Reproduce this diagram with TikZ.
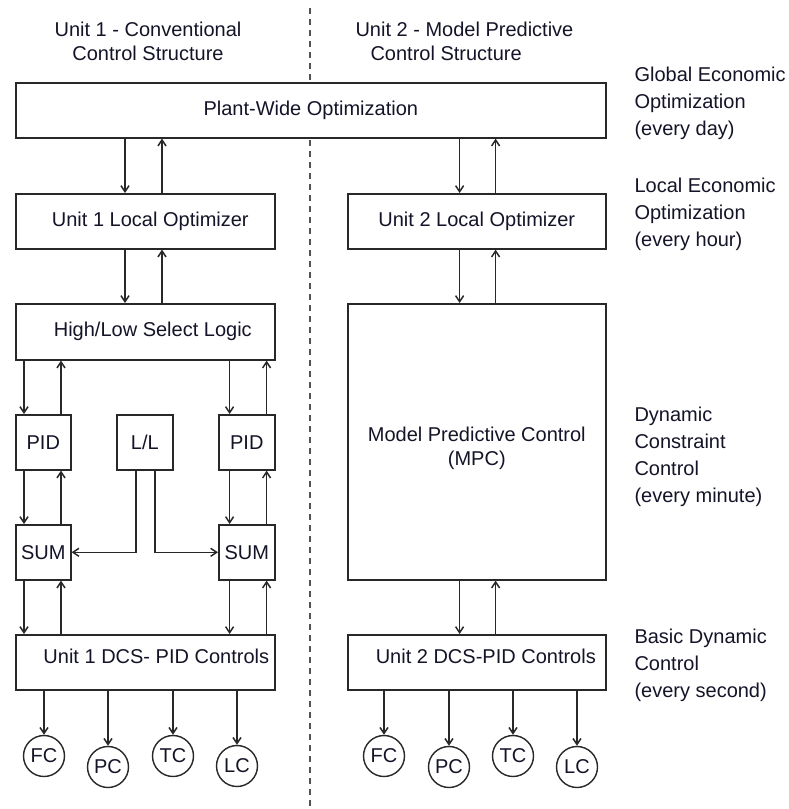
\documentclass[tikz,border=0pt]{standalone}
\usepackage{fontspec}
\setmainfont{Liberation Sans}
\usetikzlibrary{arrows.meta,calc}
\definecolor{inkline}{RGB}{40,40,40}
\definecolor{inktext}{RGB}{20,20,40}

\tikzset{
  blk/.style={draw=inkline, line width=1.6pt, fill=white, anchor=north west,
    inner sep=0pt, text=inktext, font=\fontsize{20}{24}\selectfont, align=center},
  sig/.style={draw=inkline, line width=1.5pt, -{Straight Barb[length=6pt,width=8pt]}},
  ctl/.style={circle, draw=inkline, line width=1.4pt, fill=white, minimum size=41pt,
    inner sep=0pt, text=inktext, font=\fontsize{20}{24}\selectfont},
  tier/.style={anchor=west, align=left, text=inktext, font=\fontsize{20}{27}\selectfont},
  head/.style={text=inktext, font=\fontsize{20}{24}\selectfont},
}

\begin{document}
\begin{tikzpicture}[x=1pt,y=-1pt]

  \useasboundingbox (0,0) rectangle (789,809);

  % ── UNIT DIVIDER ──────────────────────────────────────────────────────────
  \draw[inkline!80,line width=1.4pt,dash pattern=on 6pt off 5pt] (310,8) -- (310,809);

  % ── COLUMN HEADINGS ───────────────────────────────────────────────────────
  \node[head,align=center] (h1) at (148,41) {Unit 1 - Conventional\\Control Structure};
  \node[head,align=left,anchor=west] (h2) at (352,41)
    {Unit 2 - Model Predictive\\\hspace*{15pt}Control Structure};

  % ── OPTIMIZATION LAYERS ───────────────────────────────────────────────────
  \node[blk,minimum width=590pt,minimum height=55pt] (pwo) at (15,82) {Plant-Wide Optimization};
  \node[blk,minimum width=259pt,minimum height=55pt] (lo1) at (15,193) {\hspace*{10pt}Unit 1 Local Optimizer};
  \node[blk,minimum width=258pt,minimum height=55pt] (lo2) at (347,193) {Unit 2 Local Optimizer};

  % ── UNIT 1 CONTROL BLOCKS ─────────────────────────────────────────────────
  \node[blk,minimum width=259pt,minimum height=56pt] (hl) at (15,303) {\hspace*{15pt}High/Low Select Logic};
  \node[blk,minimum width=55pt,minimum height=55pt] (pid1) at (15,414) {PID};
  \node[blk,minimum width=56pt,minimum height=55pt] (ll) at (116,414) {L/L};
  \node[blk,minimum width=56pt,minimum height=55pt] (pid2) at (218,414) {PID};
  \node[blk,minimum width=55pt,minimum height=55pt] (sum1) at (15,524) {SUM};
  \node[blk,minimum width=56pt,minimum height=55pt] (sum2) at (218,524) {SUM};
  \node[blk,minimum width=259pt,minimum height=55pt,
        label={[head,xshift=11pt,yshift=6pt]center:Unit 1 DCS- PID Controls}] (dcs1) at (15,634) {};

  % ── UNIT 2 CONTROL BLOCKS ─────────────────────────────────────────────────
  \node[blk,minimum width=258pt,minimum height=276pt,
        label={[head,align=center,yshift=-7pt]center:Model Predictive Control\\(MPC)}] (mpc) at (347,303) {};
  \node[blk,minimum width=258pt,minimum height=55pt,
        label={[head,xshift=9pt,yshift=6pt]center:Unit 2 DCS-PID Controls}] (dcs2) at (347,634) {};

  % ── FIELD CONTROLLERS ─────────────────────────────────────────────────────
  \node[ctl] (fc1) at (44,756) {FC};
  \node[ctl] (pc1) at (108,767) {PC};
  \node[ctl] (tc1) at (173,756) {TC};
  \node[ctl] (lc1) at (237,766) {LC};
  \node[ctl] (fc2) at (384,756) {FC};
  \node[ctl] (pc2) at (449,767) {PC};
  \node[ctl] (tc2) at (513,756) {TC};
  \node[ctl] (lc2) at (577,767) {LC};

  % ── SIGNAL PATHS, UNIT 1 ──────────────────────────────────────────────────
  \draw[sig] ([xshift=110pt]pwo.south west) -- ([xshift=110pt]lo1.north west);
  \draw[sig] ([xshift=147pt]lo1.north west) -- ([xshift=147pt]pwo.south west);
  \draw[sig] ([xshift=110pt]lo1.south west) -- ([xshift=110pt]hl.north west);
  \draw[sig] ([xshift=147pt]hl.north west) -- ([xshift=147pt]lo1.south west);

  \draw[sig] ([xshift=9pt]hl.south west) -- ([xshift=9pt]pid1.north west);
  \draw[sig] ([xshift=46pt]pid1.north west) -- ([xshift=46pt]hl.south west);
  \draw[sig] ([xshift=-46pt]hl.south east) -- ([xshift=-46pt]pid2.north east);
  \draw[sig] ([xshift=-9pt]pid2.north east) -- ([xshift=-9pt]hl.south east);

  \draw[sig] ([xshift=9pt]pid1.south west) -- ([xshift=9pt]sum1.north west);
  \draw[sig] ([xshift=46pt]sum1.north west) -- ([xshift=46pt]pid1.south west);
  \draw[sig] ([xshift=-46pt]pid2.south east) -- ([xshift=-46pt]sum2.north east);
  \draw[sig] ([xshift=-9pt]sum2.north east) -- ([xshift=-9pt]pid2.south east);

  \draw[sig] ([xshift=-9pt]ll.south) |- (sum1.east);
  \draw[sig] ([xshift=10pt]ll.south) |- (sum2.west);

  \draw[sig] ([xshift=9pt]sum1.south west) -- ([xshift=9pt]dcs1.north west);
  \draw[sig] ([xshift=46pt]dcs1.north west) -- ([xshift=46pt]sum1.south west);
  \draw[sig] ([xshift=-46pt]sum2.south east) -- ([xshift=-46pt]dcs1.north east);
  \draw[sig] ([xshift=-9pt]dcs1.north east) -- ([xshift=-9pt]sum2.south east);

  \foreach \c in {fc1,pc1,tc1,lc1}
    \draw[sig] (dcs1.south -| \c) -- (\c);

  % ── SIGNAL PATHS, UNIT 2 ──────────────────────────────────────────────────
  \draw[sig] ([xshift=-147pt]pwo.south east) -- ([xshift=-147pt]lo2.north east);
  \draw[sig] ([xshift=-111pt]lo2.north east) -- ([xshift=-111pt]pwo.south east);
  \draw[sig] ([xshift=-147pt]lo2.south east) -- ([xshift=-147pt]mpc.north east);
  \draw[sig] ([xshift=-111pt]mpc.north east) -- ([xshift=-111pt]lo2.south east);
  \draw[sig] ([xshift=-147pt]mpc.south east) -- ([xshift=-147pt]dcs2.north east);
  \draw[sig] ([xshift=-111pt]dcs2.north east) -- ([xshift=-111pt]mpc.south east);

  \foreach \c in {fc2,pc2,tc2,lc2}
    \draw[sig] (dcs2.south -| \c) -- (\c);

  % ── TIME-SCALE LABELS ─────────────────────────────────────────────────────
  \node[tier] (t1) at (631,103) {Global Economic\\Optimization\\(every day)};
  \node[tier] (t2) at (631,214) {Local Economic\\Optimization\\(every hour)};
  \node[tier] (t3) at (631,457) {Dynamic\\Constraint\\Control\\(every minute)};
  \node[tier] (t4) at (631,665) {Basic Dynamic\\Control\\(every second)};

\end{tikzpicture}
\end{document}
